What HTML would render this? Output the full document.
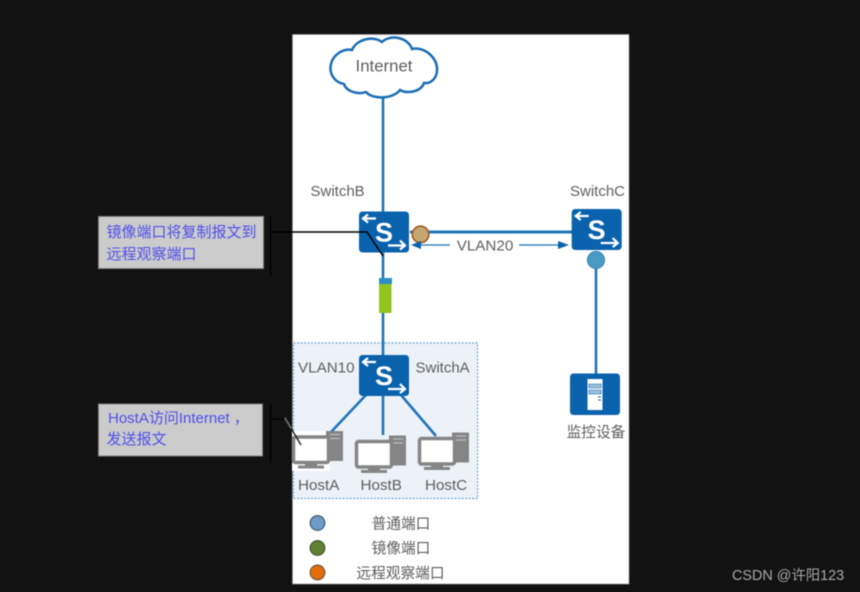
<!DOCTYPE html>
<html><head><meta charset="utf-8"><style>
html,body{margin:0;padding:0;background:#121212;width:860px;height:592px;overflow:hidden}
svg{display:block;position:absolute;left:0;top:0}
text{font-family:"Liberation Sans","Noto Sans CJK SC",sans-serif;fill:#5e5e5e;font-size:15px}
.b{fill:#3a3af0;font-size:15px;opacity:.85}
</style></head><body>
<svg width="860" height="592" viewBox="0 0 860 592" style="filter:blur(.55px)">
<defs>
<g id="sw"><rect width="50" height="41" rx="3.5" fill="#0a62ad"/>
<text x="25" y="30" text-anchor="middle" style="font-size:27px;font-weight:bold;fill:#fff">S</text>
<path d="M17 7H4M9 3 4 7l5 4M29 34H46M41 29l5 5-5 4" fill="none" stroke="#fff" stroke-width="2.2"/></g>
<g id="pc"><rect x="34" y="-4.500" width="17" height="30" fill="#858585"/><path d="M38 -1h10M38 3h10" stroke="#c4c4c4"/>
<rect x="1.500" y="1.500" width="35" height="25.500" rx="2" fill="#fff" stroke="#858585" stroke-width="3.500"/>
<path d="M13 28h12v2h7v3H6v-3h7z" fill="#858585"/></g>
</defs>
<rect width="860" height="592" fill="#121212"/>
<rect x="292.500" y="34.500" width="336.500" height="549.500" fill="#fff" stroke="#999" stroke-width=".7"/>
<rect x="293.500" y="343" width="184" height="155.500" fill="#edf2f9" stroke="#6fa6d3" stroke-width="1.200" stroke-dasharray="2 1.500"/>
<!-- links -->
<g stroke="#1f74b8" stroke-width="2.600" fill="none">
<path d="M383 95V212M383 252V356M383 395V435M596 265V375"/>
<path d="M410 232H572" stroke-width="3"/>
<path d="M366 395 331 432M401 395 436 436"/>
</g>
<!-- cloud -->
<path d="M352 50C356 40 372 35 382 42C390 34 408 37 412 49C424 46 438 58 437 70C437 78 431 84 424 83C421 92 407 94 400 90C393 99 373 100 366 92C357 95 346 91 344 84C333 82 329 72 331 64C333 55 343 48 352 50Z" fill="#fff" stroke="#1a6db5" stroke-width="2.500"/>
<text x="384" y="71.500" text-anchor="middle" style="font-size:16.800px">Internet</text>
<!-- switches -->
<use href="#sw" x="359" y="211.500"/>
<use href="#sw" x="571.700" y="209"/>
<use href="#sw" x="359" y="355"/>
<!-- ports -->
<circle cx="420.500" cy="234.500" r="8.300" fill="#c6a770" stroke="#9a5b25" stroke-width="1.600"/>
<circle cx="596" cy="260" r="8.600" fill="#4a9ac6" stroke="#3a86b8" stroke-width="1"/>
<!-- vlan20 arrows -->
<path d="M450 245H420M519 245H560" stroke="#1f74b8" stroke-width="1.300"/>
<path d="M411 245l10-4v8zM569 245l-11-4v8z" fill="#0a62ad"/>
<text x="485" y="250.500" text-anchor="middle" style="font-size:15.200px">VLAN20</text>
<!-- mirror device -->
<rect x="379" y="278" width="13" height="6" fill="#2b8fc4"/>
<rect x="379" y="284" width="12.500" height="29" fill="#93c51f"/>
<!-- labels -->
<text x="310.500" y="196">SwitchB</text>
<text x="570" y="196">SwitchC</text>
<text x="298" y="372.500" style="font-size:15.200px">VLAN10</text>
<text x="415.500" y="372.500">SwitchA</text>
<text x="298" y="490" style="font-size:15.200px">HostA</text>
<text x="360.500" y="490" style="font-size:15.200px">HostB</text>
<text x="425" y="490" style="font-size:15.200px">HostC</text>
<!-- hosts -->
<rect x="292" y="431" width="38" height="40" fill="#fff"/>
<use href="#pc" x="292" y="435.500"/>
<use href="#pc" x="355" y="440"/>
<use href="#pc" x="418" y="437"/>
<!-- monitor device -->
<rect x="570" y="373.500" width="50" height="41.500" rx="3.500" fill="#0a62ad"/>
<rect x="587.500" y="379" width="15" height="31" fill="#fff"/>
<path d="M589 384h12v4h-12zM589 390h12v4h-12z" fill="#9cc0dd" stroke="#0a62ad" stroke-width=".6"/>
<path d="M598 397h3M598 400h3" stroke="#0a62ad"/>
<text x="596" y="437" text-anchor="middle" style="font-size:14.700px">监控设备</text>
<!-- callouts -->
<rect x="98.500" y="216.500" width="165" height="52" fill="#cbcbcb" stroke="#808080"/>
<text class="b" x="106.500" y="237">镜像端口将复制报文到</text>
<text class="b" x="106.500" y="259">远程观察端口</text>
<path d="M270.500 216V276M270.500 404V463" stroke="#000" stroke-width="1.300"/>
<path d="M270 232H367L383 256" fill="none" stroke="#000" stroke-width="1.500"/>
<rect x="98.500" y="404" width="164" height="52" fill="#cbcbcb" stroke="#808080"/>
<text class="b" x="108" y="423">HostA访问Internet ，</text>
<text class="b" x="106.500" y="444">发送报文</text>
<path d="M271 419H285" stroke="#000" stroke-width="1.300"/>
<path d="M285 418 301 445" stroke="#222" stroke-width="1.400"/>
<path d="M285 418 291 428" stroke="#aaa" stroke-width="1.600" stroke-dasharray="1.500 1"/>
<!-- legend -->
<circle cx="317.500" cy="523" r="7.300" fill="#6d9ccb" stroke="#4d5f70" stroke-width="1.300"/>
<circle cx="317.500" cy="548" r="7.300" fill="#5f8232" stroke="#4a5a3a" stroke-width="1.300"/>
<circle cx="317.500" cy="572.500" r="7.300" fill="#e36c0a" stroke="#7a5a3a" stroke-width="1.300"/>
<text x="401" y="528.500" text-anchor="middle" style="font-size:14.700px">普通端口</text>
<text x="401" y="553" text-anchor="middle" style="font-size:14.700px">镜像端口</text>
<text x="400.500" y="578" text-anchor="middle" style="font-size:14.700px">远程观察端口</text>
<text x="732" y="580" style="font-size:14.400px;fill:#a8a8a8">CSDN @许阳123</text>
</svg>
</body></html>
